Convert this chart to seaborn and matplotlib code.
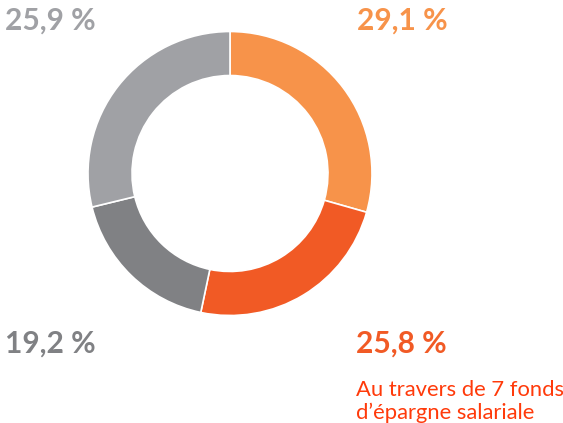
import seaborn as sns
import matplotlib.pyplot as plt

# valeurs affichées (sens horaire depuis le haut)
etiquettes = ['29,1 %', '25,8 %', '19,2 %', '25,9 %']
# parts telles que dessinées dans l'anneau (angles)
parts = [29.4, 23.9, 17.9, 28.8]
couleurs = ['#F7934A', '#F15A25', '#808184', '#A0A1A5']
note = ["Au travers de 7 fonds", "d\u2019épargne salariale"]

sns.set_style("white")
plt.rcParams['font.family'] = ['Lato', 'DejaVu Sans']

fig = plt.figure(figsize=(5.63, 4.23), dpi=100)
W, H = 563, 423

# anneau: centre (230, 173.5), rayon 142 px
cx, cy, r = 230, 173.5, 142
ax = fig.add_axes([(cx - r) / W, 1 - (cy + r) / H, 2 * r / W, 2 * r / H])
ax.pie(parts, colors=sns.color_palette(couleurs), startangle=90, counterclock=False,
       radius=1, wedgeprops=dict(width=0.31, edgecolor='white', linewidth=1.2))
ax.set_xlim(-1, 1)
ax.set_ylim(-1, 1)
ax.set_aspect('equal')
ax.axis('off')

# étiquettes (x, y de la ligne de base en pixels)
pos = [(357, 30), (356, 353), (5, 353), (5, 30)]
for (x, y), txt, c in zip(pos, etiquettes, couleurs):
    fig.text(x / W, 1 - y / H, txt, color=c, fontsize=21.5, fontweight='bold',
             va='baseline', ha='left')

for i, ligne in enumerate(note):
    fig.text(356 / W, 1 - (396 + 22.5 * i) / H, ligne, color='#FF3A0A', fontsize=15.8,
             va='baseline', ha='left')

plt.savefig('out.png', dpi=100)
